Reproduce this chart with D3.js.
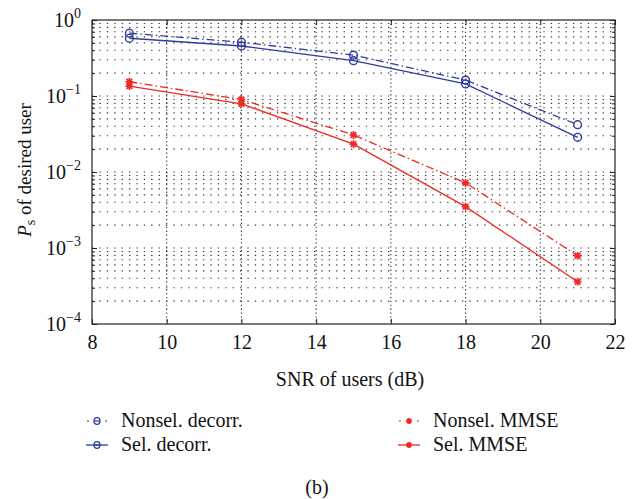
<!DOCTYPE html>
<html lang="en">
<head>
<meta charset="UTF-8">
<script src="https://cdnjs.cloudflare.com/ajax/libs/d3/7.8.5/d3.min.js"></script>
<style>
    body { margin: 0; background: #fff; }
</style>
</head>
<body>
<script>
    // values
    const snr = [9, 12, 15, 18, 21];
    const nonselDecorr = [0.67, 0.51, 0.345, 0.162, 0.042];
    const selDecorr = [0.575, 0.455, 0.292, 0.144, 0.0286];
    const nonselMmse = [0.154, 0.090, 0.0307, 0.0072, 0.00079];
    const selMmse = [0.135, 0.079, 0.0233, 0.0035, 0.00036];
    const xTicks = [8, 10, 12, 14, 16, 18, 20, 22];
    const yDecades = [1, 0.1, 0.01, 0.001, 0.0001];
    const yExp = ["0", "\u22121", "\u22122", "\u22123", "\u22124"];

    const blue = "#2f3c9e", red = "#ec2a26";
    const series = [
        {name: "Nonsel. decorr.", vals: nonselDecorr, color: blue, dash: "8,3,1.5,3", mark: "o"},
        {name: "Sel. decorr.", vals: selDecorr, color: blue, dash: null, mark: "o"},
        {name: "Nonsel. MMSE", vals: nonselMmse, color: red, dash: "8,3,1.5,3", mark: "*"},
        {name: "Sel. MMSE", vals: selMmse, color: red, dash: null, mark: "*"}
    ];

    const W = 634, H = 499;
    const L = 92, R = 615, T = 20, B = 324;
    const FS = 20, FONT = "Liberation Serif";
    const svg = d3.select("body").append("svg").attr("width", W).attr("height", H)
        .attr("font-family", FONT);

    const x = d3.scaleLinear().domain([8, 22]).range([L, R]);
    const y = d3.scaleLog().domain([1e-4, 1]).range([B, T]);

    // minor values for log grid
    let minor = [];
    for (let e = -4; e < 0; e++) {
        for (let k = 1; k <= 9; k++) minor.push(k * Math.pow(10, e));
    }
    minor = minor.filter(v => v > 1e-4);

    // grid
    const grid = svg.append("g");
    minor.forEach(v => {
        grid.append("line")
            .attr("x1", L).attr("x2", R).attr("y1", y(v)).attr("y2", y(v))
            .attr("stroke", "#333").attr("stroke-width", 1.1)
            .attr("stroke-dasharray", "1.3,6.1");
    });
    xTicks.slice(1, -1).forEach(v => {
        grid.append("line")
            .attr("x1", x(v)).attr("x2", x(v)).attr("y1", T).attr("y2", B)
            .attr("stroke", "#333").attr("stroke-width", 1.1)
            .attr("stroke-dasharray", "1.3,2.6");
    });

    // axes (ticks inward)
    const xAxis = svg.append("g").attr("transform", "translate(0," + B + ")")
        .call(d3.axisBottom(x).tickValues(xTicks).tickSize(-5).tickPadding(11).tickFormat(d3.format("d")));
    const xTop = svg.append("g").attr("transform", "translate(0," + T + ")")
        .call(d3.axisTop(x).tickValues(xTicks).tickSize(-5).tickFormat(""));
    const yAxis = svg.append("g").attr("transform", "translate(" + L + ",0)")
        .call(d3.axisLeft(y).tickValues(yDecades).tickSize(-5).tickFormat(""));
    const yRight = svg.append("g").attr("transform", "translate(" + R + ",0)")
        .call(d3.axisRight(y).tickValues(yDecades).tickSize(-5).tickFormat(""));
    const yMinL = svg.append("g").attr("transform", "translate(" + L + ",0)")
        .call(d3.axisLeft(y).tickValues(minor).tickSize(-3).tickFormat(""));
    const yMinR = svg.append("g").attr("transform", "translate(" + R + ",0)")
        .call(d3.axisRight(y).tickValues(minor).tickSize(-3).tickFormat(""));
    [xAxis, xTop, yAxis, yRight, yMinL, yMinR].forEach(g => {
        g.attr("font-family", FONT).attr("font-size", FS);
        g.select(".domain").remove();
        g.selectAll("line").attr("stroke", "#222");
    });
    xAxis.selectAll("text").attr("fill", "#111").attr("font-family", FONT);

    // y tick labels 10^n
    yDecades.forEach((v, i) => {
        const t = svg.append("text").attr("x", 81).attr("y", y(v) + 7)
            .attr("text-anchor", "end").attr("font-size", FS).attr("fill", "#111");
        t.append("tspan").text("10");
        t.append("tspan").attr("dy", -9).attr("font-size", 14).text(yExp[i]);
    });

    // box
    svg.append("rect").attr("x", L).attr("y", T).attr("width", R - L).attr("height", B - T)
        .attr("fill", "none").attr("stroke", "#222").attr("stroke-width", 1.2);

    // series
    const line = d3.line().x((d, i) => x(snr[i])).y(d => y(d));
    const drawMark = (g, cx, cy, s, color, r) => {
        if (s.mark === "o") {
            g.append("circle").attr("cx", cx).attr("cy", cy).attr("r", r)
                .attr("fill", "none").attr("stroke", color).attr("stroke-width", 1.4);
        } else {
            const a = r, b = r * 0.72;
            const p = "M" + (cx - a) + "," + cy + "h" + (2 * a) +
                "M" + cx + "," + (cy - a) + "v" + (2 * a) +
                "M" + (cx - b) + "," + (cy - b) + "l" + (2 * b) + "," + (2 * b) +
                "M" + (cx - b) + "," + (cy + b) + "l" + (2 * b) + "," + (-2 * b);
            g.append("path").attr("d", p).attr("stroke", color).attr("stroke-width", 1.7).attr("fill", "none");
        }
    };
    series.forEach(s => {
        const g = svg.append("g");
        g.append("path").datum(s.vals).attr("d", line)
            .attr("fill", "none").attr("stroke", s.color).attr("stroke-width", 1.3)
            .attr("stroke-dasharray", s.dash);
        s.vals.forEach((v, i) => drawMark(g, x(snr[i]), y(v), s, s.color, 3.9));
    });

    // axis labels
    svg.append("text").attr("x", 350).attr("y", 386).attr("text-anchor", "middle")
        .attr("font-size", FS).attr("fill", "#111").text("SNR of users (dB)");
    const yl = svg.append("text").attr("transform", "translate(31,170) rotate(-90)")
        .attr("text-anchor", "middle").attr("font-size", 19).attr("fill", "#111");
    yl.append("tspan").attr("font-style", "italic").text("P");
    yl.append("tspan").attr("font-size", 14).attr("dy", 4).text("s");
    yl.append("tspan").attr("dy", -4).text(" of desired user");

    // legend
    const legPos = [[97, 421], [97, 445], [409, 421], [409, 445]];
    series.forEach((s, i) => {
        const [cx, cy] = legPos[i];
        const g = svg.append("g");
        if (s.dash) {
            [-9, 9].forEach(dx => g.append("line").attr("x1", cx + dx - 0.7).attr("x2", cx + dx + 0.7)
                .attr("y1", cy).attr("y2", cy).attr("stroke", s.color).attr("stroke-width", 1.3));
        } else {
            g.append("line").attr("x1", cx - 11).attr("x2", cx + 11).attr("y1", cy).attr("y2", cy)
                .attr("stroke", s.color).attr("stroke-width", 1.3);
        }
        if (s.mark === "o") {
            g.append("ellipse").attr("cx", cx).attr("cy", cy).attr("rx", 3).attr("ry", 3.4)
                .attr("fill", "none").attr("stroke", s.color).attr("stroke-width", 1.3);
            g.append("line").attr("x1", cx - 3).attr("x2", cx + 3).attr("y1", cy).attr("y2", cy)
                .attr("stroke", s.color).attr("stroke-width", 1.2);
        } else {
            drawMark(g, cx, cy, s, s.color, 3);
        }
        svg.append("text").attr("x", cx + 24).attr("y", cy + 6).attr("font-size", FS)
            .attr("fill", "#111").text(s.name);
    });

    svg.append("text").attr("x", 317).attr("y", 494).attr("text-anchor", "middle")
        .attr("font-size", FS).attr("fill", "#111").text("(b)");
</script>
</body>
</html>
